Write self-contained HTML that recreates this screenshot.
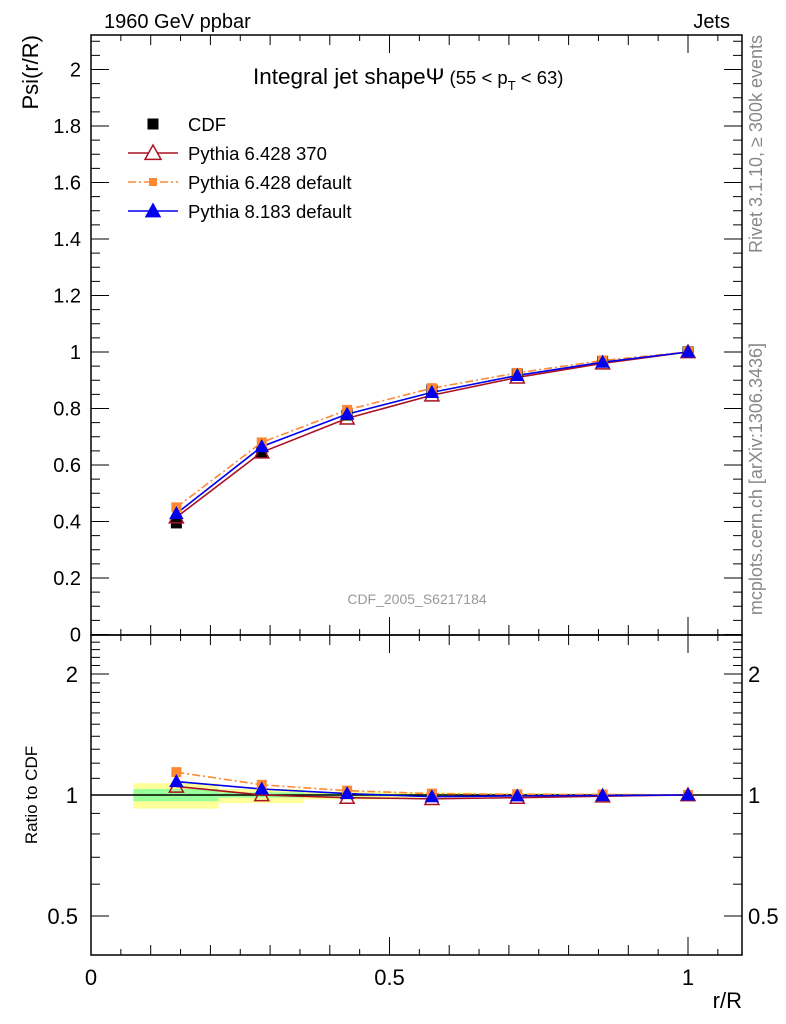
<!DOCTYPE html>
<html><head><meta charset="utf-8"><style>
body{margin:0;background:#fff;}
svg{display:block;font-family:"Liberation Sans",sans-serif;}
</style></head><body>
<svg id="chart" width="786" height="1024" viewBox="0 0 786 1024">
<rect width="786" height="1024" fill="#fff"/>
<g id="g"></g>
</svg>
<script>
const xs = [0.143, 0.286, 0.429, 0.571, 0.714, 0.857, 1.0];
const binLo = [0.071, 0.214, 0.357, 0.5, 0.643, 0.786, 0.929];
const binHi = [0.214, 0.357, 0.5, 0.643, 0.786, 0.929, 1.071];
const cdf = [0.395, 0.643, 0.777, 0.866, 0.922, 0.967, 1.0];
const py370 = [0.415, 0.645, 0.765, 0.847, 0.91, 0.96, 1.0];
const pyDef = [0.45, 0.68, 0.795, 0.872, 0.926, 0.97, 1.0];
const py8 = [0.428, 0.665, 0.78, 0.857, 0.917, 0.964, 1.0];
const r370 = [1.05, 1.0, 0.985, 0.978, 0.985, 0.993, 1.0];
const rDef = [1.14, 1.06, 1.025, 1.008, 1.004, 1.003, 1.0];
const r8 = [1.08, 1.035, 1.008, 0.99, 0.995, 0.997, 1.0];
const bandYelUp = [1.07, 1.035, 1.02, 1.015, 1.01, 1.008, 1.002];
const bandYelDn = [0.925, 0.955, 0.975, 0.985, 0.99, 0.995, 0.998];
const bandGrnUp = [1.035, 1.015, 1.008, 1.006, 1.005, 1.004, 1.001];
const bandGrnDn = [0.965, 0.985, 0.992, 0.994, 0.995, 0.996, 0.999];
const yTicks = ["0","0.2","0.4","0.6","0.8","1","1.2","1.4","1.6","1.8","2"];
const rTicks = ["0.5","1","2"];
const xTicks = ["0","0.5","1"];

const L=91,R=742,T=35,MB=635,RB=955;
const X=v=>L+v*597;
const Y=v=>634.5-v*282.5;
const RY=v=>795-Math.log2(v)*121;
const g=document.getElementById('g');
const NS='http://www.w3.org/2000/svg';
function el(t,a,p){const e=document.createElementNS(NS,t);for(const k in a)e.setAttribute(k,a[k]);(p||g).appendChild(e);return e;}
function txt(s,x,y,sz,anc,col){const e=el('text',{x:x,y:y,'font-size':sz,'text-anchor':anc||'start',fill:col||'#000'});e.textContent=s;return e;}

for(let i=0;i<xs.length;i++){
 const b=el('rect',{x:X(binLo[i]),y:RY(bandYelUp[i]),width:X(binHi[i])-X(binLo[i]),height:RY(bandYelDn[i])-RY(bandYelUp[i]),fill:'#ffff99'});
 
 
 const c=el('rect',{x:X(binLo[i]),y:RY(bandGrnUp[i]),width:X(binHi[i])-X(binLo[i]),height:RY(bandGrnDn[i])-RY(bandGrnUp[i]),fill:'#99ff99'});
 
 
}
el('line',{x1:L,x2:R,y1:RY(1),y2:RY(1),stroke:'#000','stroke-width':1.5});

const f1=el('rect',{x:L,y:T,width:R-L,height:MB-T,fill:'none',stroke:'#000','stroke-width':1.5});

const f2=el('rect',{x:L,y:MB,width:R-L,height:RB-MB,fill:'none',stroke:'#000','stroke-width':1.5});


for(let k=0;k<=21;k++){const v=k*0.05;const px=X(v);const major=(k%10==0);const len=major?18:(k%2==0?10:6);
 for(const [y0,d] of [[MB,-1],[T,1],[RB,-1],[MB,1]]) el('line',{x1:px,x2:px,y1:y0,y2:y0+d*len,stroke:'#000','stroke-width':1});}
xTicks.forEach(s=>{const t=txt(s,X(parseFloat(s)),985,22,'middle');});
for(let k=0;k<=42;k++){const v=k*0.05;const py=Y(v);if(py<T)continue;const len=(k%4==0)?18:9;
 el('line',{x1:L,x2:L+len,y1:py,y2:py,stroke:'#000'});el('line',{x1:R,x2:R-len,y1:py,y2:py,stroke:'#000'});}
yTicks.forEach(s=>{const t=txt(s,81,Y(parseFloat(s))+7,20,'end');});
const rminor=[0.4,0.5,0.6,0.7,0.8,0.9,1,1.1,1.2,1.3,1.4,1.5,1.6,1.7,1.8,1.9,2,2.1,2.2,2.3,2.4,2.5];
rminor.forEach(v=>{const py=RY(v);if(py<MB||py>RB)return;const len=[0.5,1,2].includes(v)?18:9;
 el('line',{x1:L,x2:L+len,y1:py,y2:py,stroke:'#000'});el('line',{x1:R,x2:R-len,y1:py,y2:py,stroke:'#000'});});
rTicks.forEach(s=>{const v=parseFloat(s);const t=txt(s,78,RY(v)+8,22,'end');
 const t2=txt(s,748,RY(v)+8,22,'start');});

function line(vals,fy,col,dash,name){const pts=vals.map((v,i)=>X(xs[i])+','+fy(v)).join(' ');
 const p=el('polyline',{points:pts,fill:'none',stroke:col,'stroke-width':1.6,'stroke-dasharray':dash||'none'});
 }
function sq(x,y,c,s){return el('rect',{x:x-s,y:y-s,width:2*s,height:2*s,fill:c});}
function tri(x,y,c,fill,s){return el('polygon',{points:`${x},${y-s} ${x-s},${y+s*0.8} ${x+s},${y+s*0.8}`,fill:fill,stroke:c,'stroke-width':1.5});}
line(pyDef,Y,'#ff8833','8,3,2,3','pythia6-default-line');
line(py370,Y,'#aa1122',null,'pythia6-370-line');
line(py8,Y,'#0000ee',null,'pythia8-line');
line(rDef,RY,'#ff8833','8,3,2,3','ratio-pythia6-default-line');
line(r370,RY,'#aa1122',null,'ratio-pythia6-370-line');
line(r8,RY,'#0000ee',null,'ratio-pythia8-line');
xs.forEach((x,i)=>{
 let m=sq(X(x),Y(cdf[i]),'#000',5.5);
 m=sq(X(x),Y(pyDef[i]),'#ff8833',5);
 m=tri(X(x),Y(py370[i]),'#aa1122','none',7);
 m=tri(X(x),Y(py8[i]),'#0000ee','#0000ee',6);
 m=sq(X(x),RY(rDef[i]),'#ff8833',5);
 m=tri(X(x),RY(r370[i]),'#aa1122','none',7);
 m=tri(X(x),RY(r8[i]),'#0000ee','#0000ee',6);
});

const leg=[['CDF','cdf'],['Pythia 6.428 370','p370'],['Pythia 6.428 default','pdef'],['Pythia 8.183 default','p8']];
leg.forEach((e,i)=>{const y=124+i*29;const cx=153;
 if(e[1]=='cdf')sq(cx,y,'#000',5.5);
 if(e[1]=='p370'){el('line',{x1:128,x2:178,y1:y,y2:y,stroke:'#aa1122','stroke-width':1.5});tri(cx,y,'#aa1122','#fff',8);}
 if(e[1]=='pdef'){el('line',{x1:128,x2:178,y1:y,y2:y,stroke:'#ff8833','stroke-width':1.5,'stroke-dasharray':'8,3,2,3'});sq(cx,y,'#ff8833',4);}
 if(e[1]=='p8'){el('line',{x1:128,x2:178,y1:y,y2:y,stroke:'#0000ee','stroke-width':1.5});tri(cx,y,'#0000ee','#0000ee',7);}
 const t=txt(e[0],188,y+7,18.5);});

let t=txt('1960 GeV ppbar',104,28,20);
t=txt('Jets',730,28,20,'end');
t=el('text',{x:253,y:84,'font-size':22.5});t.innerHTML='Integral jet shape\u03A8<tspan font-size="18.5"> (55 &lt; p</tspan><tspan font-size="13" dy="6">T</tspan><tspan font-size="18.5" dy="-6"> &lt; 63)</tspan>';

t=txt('CDF_2005_S6217184',417,604,14,'middle','#999');
t=txt('Psi(r/R)',0,0,22,'end');t.setAttribute('transform','translate(38,35) rotate(-90)');
t=txt('Ratio to CDF',0,0,17,'middle');t.setAttribute('transform','translate(37,795) rotate(-90)');
t=txt('r/R',742,1008,22,'end');
t=txt('Rivet 3.1.10, \u2265 300k events',0,0,18,'end','#888');t.setAttribute('transform','translate(762,35) rotate(-90)');
t=txt('mcplots.cern.ch [arXiv:1306.3436]',0,0,18,'end','#888');t.setAttribute('transform','translate(762,343) rotate(-90)');
</script>
</body></html>
